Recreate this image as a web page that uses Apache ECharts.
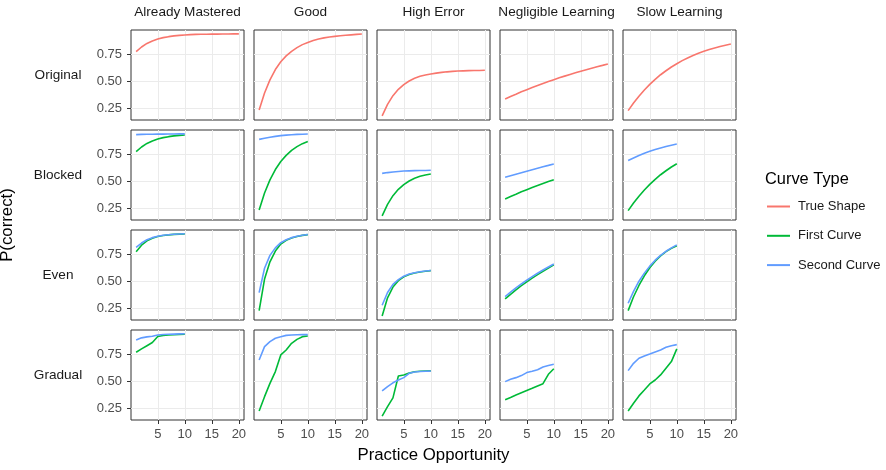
<!DOCTYPE html>
<html>
<head>
<meta charset="utf-8">
<script src="https://cdn.jsdelivr.net/npm/echarts@6/dist/echarts.min.js"></script>
<style>
  html, body { margin: 0; padding: 0; background: #fff; }
  #chart { width: 886px; height: 470px; }
</style>
</head>
<body>
<div id="chart"></div>
<script>
// facets
const shapes = ['Already Mastered', 'Good', 'High Error', 'Negligible Learning', 'Slow Learning'];
const schedules = ['Original', 'Blocked', 'Even', 'Gradual'];
const xTicks = [5, 10, 15, 20];
const yTicks = [0.25, 0.5, 0.75];
const opportunity = [1, 2, 3, 4, 5, 6, 7, 8, 9, 10, 11, 12, 13, 14, 15, 16, 17, 18, 19, 20];
const opportunityHalf = [1, 2, 3, 4, 5, 6, 7, 8, 9, 10];

// one list per shape (same order as shapes)
const trueShape = [
    [0.774, 0.818, 0.851, 0.874, 0.892, 0.905, 0.914, 0.921, 0.926, 0.930, 0.933, 0.935, 0.936, 0.937, 0.938, 0.938, 0.939, 0.939, 0.940, 0.940],
    [0.232, 0.390, 0.512, 0.608, 0.680, 0.735, 0.778, 0.812, 0.840, 0.860, 0.878, 0.892, 0.903, 0.911, 0.917, 0.922, 0.927, 0.931, 0.935, 0.939],
    [0.177, 0.285, 0.365, 0.424, 0.468, 0.502, 0.527, 0.545, 0.558, 0.567, 0.575, 0.582, 0.587, 0.591, 0.594, 0.596, 0.598, 0.599, 0.600, 0.601],
    [0.335, 0.358, 0.379, 0.401, 0.421, 0.441, 0.460, 0.479, 0.497, 0.514, 0.531, 0.547, 0.563, 0.578, 0.593, 0.607, 0.621, 0.635, 0.647, 0.660],
    [0.226, 0.297, 0.360, 0.418, 0.470, 0.517, 0.560, 0.597, 0.632, 0.662, 0.691, 0.716, 0.739, 0.760, 0.778, 0.794, 0.809, 0.823, 0.835, 0.846]
];

const blockedFirst = [
    [0.774, 0.818, 0.851, 0.874, 0.892, 0.905, 0.914, 0.921, 0.926, 0.930],
    [0.232, 0.390, 0.512, 0.608, 0.683, 0.740, 0.786, 0.821, 0.849, 0.870],
    [0.177, 0.285, 0.365, 0.424, 0.468, 0.502, 0.527, 0.545, 0.558, 0.567],
    [0.335, 0.358, 0.379, 0.401, 0.421, 0.441, 0.460, 0.479, 0.497, 0.514],
    [0.226, 0.297, 0.360, 0.418, 0.470, 0.517, 0.560, 0.597, 0.632, 0.662]
];
const blockedSecond = [
    [0.933, 0.935, 0.936, 0.937, 0.938, 0.938, 0.939, 0.939, 0.940, 0.940],
    [0.889, 0.899, 0.909, 0.917, 0.924, 0.928, 0.932, 0.935, 0.937, 0.939],
    [0.573, 0.580, 0.586, 0.590, 0.594, 0.596, 0.598, 0.599, 0.600, 0.601],
    [0.537, 0.551, 0.565, 0.579, 0.593, 0.607, 0.621, 0.635, 0.647, 0.660],
    [0.693, 0.716, 0.739, 0.760, 0.778, 0.794, 0.809, 0.823, 0.835, 0.846]
];

const evenFirst = [
    [0.774, 0.835, 0.875, 0.900, 0.915, 0.925, 0.931, 0.935, 0.938, 0.940],
    [0.226, 0.520, 0.680, 0.780, 0.845, 0.880, 0.902, 0.916, 0.926, 0.933],
    [0.177, 0.345, 0.445, 0.505, 0.540, 0.562, 0.576, 0.586, 0.593, 0.598],
    [0.335, 0.378, 0.419, 0.458, 0.494, 0.528, 0.561, 0.592, 0.622, 0.652],
    [0.226, 0.355, 0.460, 0.550, 0.625, 0.685, 0.735, 0.775, 0.805, 0.830]
];
const evenSecond = [
    [0.815, 0.855, 0.885, 0.905, 0.918, 0.927, 0.932, 0.936, 0.939, 0.941],
    [0.393, 0.620, 0.740, 0.810, 0.858, 0.886, 0.905, 0.918, 0.927, 0.934],
    [0.276, 0.395, 0.470, 0.515, 0.547, 0.566, 0.579, 0.588, 0.595, 0.600],
    [0.357, 0.398, 0.437, 0.474, 0.509, 0.542, 0.574, 0.604, 0.632, 0.660],
    [0.295, 0.405, 0.500, 0.575, 0.640, 0.695, 0.740, 0.778, 0.810, 0.838]
];

const gradualFirst = [
    [0.769, 0.800, 0.830, 0.860, 0.915, 0.925, 0.930, 0.932, 0.934, 0.936],
    [0.223, 0.356, 0.480, 0.589, 0.744, 0.790, 0.852, 0.889, 0.914, 0.920],
    [0.175, 0.263, 0.345, 0.548, 0.557, 0.575, 0.588, 0.592, 0.595, 0.596],
    [0.328, 0.349, 0.371, 0.392, 0.413, 0.434, 0.456, 0.477, 0.564, 0.616],
    [0.223, 0.295, 0.363, 0.418, 0.474, 0.511, 0.558, 0.620, 0.682, 0.800]
];
const gradualSecond = [
    [0.883, 0.903, 0.912, 0.918, 0.930, 0.934, 0.936, 0.938, 0.940, 0.941],
    [0.697, 0.821, 0.868, 0.899, 0.914, 0.926, 0.930, 0.932, 0.933, 0.933],
    [0.409, 0.450, 0.485, 0.511, 0.533, 0.573, 0.585, 0.590, 0.593, 0.594],
    [0.496, 0.518, 0.533, 0.552, 0.580, 0.592, 0.607, 0.632, 0.645, 0.657],
    [0.598, 0.666, 0.713, 0.735, 0.753, 0.772, 0.790, 0.815, 0.830, 0.840]
];

const colors = { 'True Shape': '#F8766D', 'First Curve': '#00BA38', 'Second Curve': '#619CFF' };
const font = "'Liberation Sans', Arial, sans-serif";

var chartDom = document.getElementById('chart');
var myChart = echarts.init(chartDom, null, { renderer: 'canvas' });

const panelLeft = 131, panelTop = 30, panelW = 113, panelH = 90, gapX = 10, gapY = 10;

const grids = [], xAxes = [], yAxes = [], series = [], graphics = [];

function pairs(xs, ys) {
    return xs.map((x, i) => [x, ys[i]]);
}

function addLine(name, idx, data) {
    series.push({
        type: 'line',
        name: name,
        xAxisIndex: idx,
        yAxisIndex: idx,
        data: data,
        symbol: 'none',
        smooth: false,
        lineStyle: { width: 1.6, color: colors[name] },
        itemStyle: { color: colors[name] },
        emphasis: { disabled: true }
    });
}

const firsts = [null, blockedFirst, evenFirst, gradualFirst];
const seconds = [null, blockedSecond, evenSecond, gradualSecond];

schedules.forEach((sched, r) => {
    shapes.forEach((shape, c) => {
        const idx = grids.length;
        grids.push({
            left: panelLeft + c * (panelW + gapX),
            top: panelTop + r * (panelH + gapY),
            width: panelW,
            height: panelH,
            show: true,
            borderColor: '#333333',
            borderWidth: 1,
            backgroundColor: '#ffffff',
            outerBoundsMode: 'none'
        });
        xAxes.push({
            gridIndex: idx,
            type: 'value',
            min: 0.05,
            max: 20.95,
            axisLine: { show: false },
            axisTick: { show: r === 3, length: 4, customValues: xTicks, lineStyle: { color: '#333333' } },
            axisLabel: { show: r === 3, customValues: xTicks, margin: 8, color: '#4d4d4d', fontSize: 13, fontFamily: font },
            splitLine: { show: true, lineStyle: { color: '#ebebeb', width: 1 } }
        });
        yAxes.push({
            gridIndex: idx,
            type: 'value',
            min: 0.139,
            max: 0.976,
            axisLine: { show: false },
            axisTick: { show: c === 0, length: 4, customValues: yTicks, lineStyle: { color: '#333333' } },
            axisLabel: {
                show: c === 0, customValues: yTicks, margin: 9, color: '#4d4d4d', fontSize: 13, fontFamily: font,
                formatter: v => v.toFixed(2)
            },
            splitLine: { show: true, lineStyle: { color: '#ebebeb', width: 1 } }
        });
        if (r === 0) {
            addLine('True Shape', idx, pairs(opportunity, trueShape[c]));
        } else {
            addLine('First Curve', idx, pairs(opportunityHalf, firsts[r][c]));
            addLine('Second Curve', idx, pairs(opportunityHalf, seconds[r][c]));
        }
    });
});

// strip labels
shapes.forEach((shape, c) => {
    graphics.push({
        type: 'text',
        x: panelLeft + c * (panelW + gapX) + panelW / 2,
        y: 12,
        style: { text: shape, fill: '#1a1a1a', fontSize: 13.6, fontFamily: font, align: 'center', verticalAlign: 'middle' }
    });
});
schedules.forEach((sched, r) => {
    graphics.push({
        type: 'text',
        x: 58,
        y: panelTop + r * (panelH + gapY) + panelH / 2,
        style: { text: sched, fill: '#1a1a1a', fontSize: 13.6, fontFamily: font, align: 'center', verticalAlign: 'middle' }
    });
});
// axis titles
graphics.push({
    type: 'text',
    x: 433.5,
    y: 455,
    style: { text: 'Practice Opportunity', fill: '#000', fontSize: 16.8, fontFamily: font, align: 'center', verticalAlign: 'middle' }
});
graphics.push({
    type: 'text',
    x: 7,
    y: 225,
    rotation: Math.PI / 2,
    style: { text: 'P(correct)', fill: '#000', fontSize: 16.8, fontFamily: font, align: 'center', verticalAlign: 'middle' }
});
// legend title
graphics.push({
    type: 'text',
    x: 765,
    y: 179,
    style: { text: 'Curve Type', fill: '#000', fontSize: 16.4, fontFamily: font, align: 'left', verticalAlign: 'middle' }
});

var option = {
    animation: false,
    backgroundColor: '#ffffff',
    textStyle: { fontFamily: font },
    grid: grids,
    xAxis: xAxes,
    yAxis: yAxes,
    series: series,
    legend: {
        orient: 'vertical',
        left: 767,
        top: 200,
        padding: 0,
        itemWidth: 23,
        itemHeight: 2,
        itemGap: 16.3,
        icon: 'rect',
        selectedMode: false,
        data: ['True Shape', 'First Curve', 'Second Curve'],
        textStyle: { fontSize: 13, color: '#1a1a1a', fontFamily: font, padding: [0, 0, 0, 3] }
    },
    graphic: graphics
};

option && myChart.setOption(option);
</script>
</body>
</html>
